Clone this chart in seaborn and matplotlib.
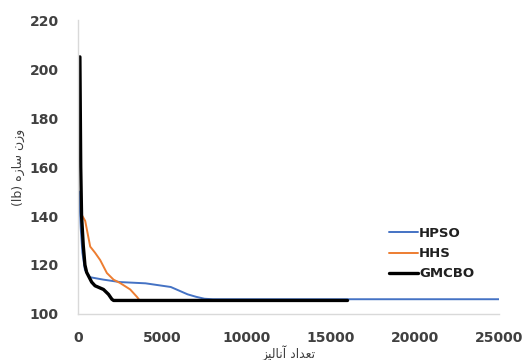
import matplotlib
matplotlib.use("Agg")
import matplotlib.pyplot as plt
import seaborn as sns
import pandas as pd

# Data
hpso_x = [50, 150, 250, 400, 700, 1500, 2500, 4000, 5000, 5500, 6000, 6500, 7000, 7500, 8000, 25000]
hpso_y = [150, 135, 125, 118, 115, 114, 113, 112.5, 111.5, 111, 109.5, 108, 107, 106.2, 106, 106]
hhs_x = [250, 415, 713, 1000, 1306, 1704, 2100, 2494, 3088, 3486, 3600]
hhs_y = [140, 138, 127.5, 125, 122, 116.7, 114, 112.6, 110, 107, 106]
gmcbo_x = [100, 150, 200, 300, 400, 500, 800, 1000, 1500, 1800, 2000, 2100, 16000]
gmcbo_y = [205, 160, 140, 128, 120, 117, 113, 111.5, 110, 108, 106, 105.5, 105.5]
series_names = ["HPSO", "HHS", "GMCBO"]
x_ticks = [0, 5000, 10000, 15000, 20000, 25000]
y_ticks = [100, 120, 140, 160, 180, 200, 220]
# Persian labels (pre-shaped presentation forms in visual order)
x_label = "\uFEB0\uFEF4\uFEDF\uFE8E\uFEE7\uFE81 \uFEA9\uFE8D\uFEAA\uFECC\uFE97"   # تعداد آنالیز
y_label = "(lb) \uFEE9\uFEAF\uFE8E\uFEB3 \uFEE5\uFEAF\uFEED"                      # وزن سازه (lb)

sns.set_style("white")
plt.rcParams['font.family'] = ['DejaVu Sans']

fig = plt.figure(figsize=(5.32, 3.6), dpi=100)
ax = fig.add_axes([0.147, 0.128, 0.791, 0.816])

styles = [("#4472C4", 1.4), ("#ED7D31", 1.4), ("#000000", 2.4)]
data = [(hpso_x, hpso_y), (hhs_x, hhs_y), (gmcbo_x, gmcbo_y)]
for name, (xs, ys), (c, lw) in zip(series_names, data, styles):
    df = pd.DataFrame({"x": xs, "y": ys})
    sns.lineplot(data=df, x="x", y="y", ax=ax, color=c, linewidth=lw, label=name,
                 sort=False, estimator=None)

ax.set_xlim(0, 25000)
ax.set_ylim(100, 220)
ax.set_xticks(x_ticks)
ax.set_yticks(y_ticks)
ax.tick_params(axis='x', labelsize=10, labelcolor='#404040', color='#D9D9D9',
               length=3, width=0.8, pad=9)
ax.tick_params(axis='y', labelsize=10, labelcolor='#404040', length=0, pad=14)
for lab in ax.get_xticklabels() + ax.get_yticklabels():
    lab.set_fontweight('bold')
for s in ["top", "right"]:
    ax.spines[s].set_visible(False)
for s in ["left", "bottom"]:
    ax.spines[s].set_color("#D9D9D9")
    ax.spines[s].set_linewidth(1.0)

ax.set_xlabel(x_label, fontsize=9, color="#404040", labelpad=0)
ax.set_ylabel(y_label, fontsize=9, color="#404040", labelpad=3)

leg = ax.legend(loc="center left", bbox_to_anchor=(0.71, 0.205), frameon=False,
                fontsize=9.5, handlelength=2.2, handletextpad=0.1, labelspacing=0.55)
for t in leg.get_texts():
    t.set_fontweight('bold')
    t.set_color('#202020')

fig.savefig("out.png", dpi=100, facecolor="white")
